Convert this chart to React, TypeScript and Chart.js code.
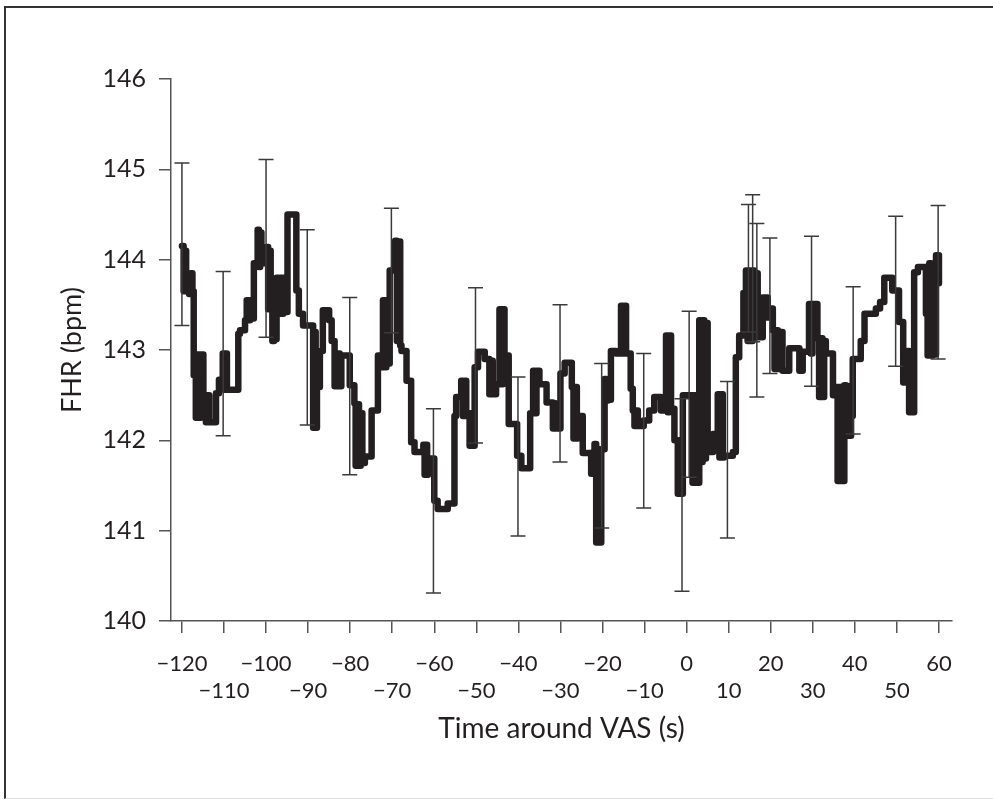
import React, { useEffect, useRef } from "react";
import { Chart, registerables } from "chart.js";

Chart.register(...registerables);

// Mean FHR step series (time in s around VAS, value in bpm)
const stepTimes: number[] = [
  -120, -119.6, -119.3, -119.0, -118.7, -118.3, -117.9, -117.5, -117.2, -116.7,
  -116.3, -115.9, -115.5, -114.9, -114.3, -113.9, -113.5, -111.9, -111.2, -110.3,
  -110.0, -109.7, -109.3, -106.6, -106.2, -105.0, -104.6, -104.2, -103.8, -103.4,
  -102.9, -102.0, -101.7, -101.4, -101.1, -99.9, -99.5, -99.2, -98.9, -98.5,
  -98.1, -97.8, -97.5, -97.1, -96.7, -96.3, -95.9, -95.5, -94.9, -92.8,
  -92.2, -91.2, -88.8, -88.5, -88.2, -87.9, -87.2, -86.5, -85.0, -84.4,
  -83.7, -83.4, -83.1, -82.8, -82.5, -82.1, -80.1, -79.0, -78.7, -78.3,
  -77.9, -77.5, -77.1, -76.5, -74.9, -73.4, -72.6, -72.2, -71.8, -71.4,
  -71.0, -70.6, -69.3, -68.9, -68.5, -68.1, -67.8, -66.6, -65.5, -64.7,
  -62.6, -62.3, -62.0, -61.7, -61.5, -60.0, -59.2, -56.8, -55.2, -54.8,
  -53.6, -53.2, -52.8, -52.4, -52.0, -51.6, -51.2, -50.8, -50.4, -49.6,
  -48.0, -46.9, -46.5, -46.1, -45.3, -44.5, -44.1, -43.7, -43.3, -42.9,
  -42.3, -40.3, -39.3, -37.2, -36.5, -36.1, -35.7, -35.0, -33.3, -31.8,
  -31.5, -31.2, -30.0, -29.0, -27.3, -26.9, -26.5, -26.1, -25.9, -24.7,
  -22.7, -21.9, -21.5, -21.1, -20.7, -20.3, -19.5, -19.1, -18.7, -18.3,
  -18.0, -16.8, -15.6, -15.2, -14.8, -14.4, -13.3, -12.8, -12.4, -12.0,
  -11.6, -10.2, -8.9, -7.7, -6.1, -4.9, -4.5, -4.1, -3.7, -2.9,
  -2.1, -1.7, -1.3, -0.9, 1.4, 1.8, 2.2, 3.0, 3.4, 3.8,
  4.2, 4.6, 5.0, 6.3, 7.4, 7.8, 8.2, 8.6, 8.9, 11.0,
  11.7, 12.5, 13.5, 14.1, 14.5, 14.9, 15.3, 15.7, 16.1, 16.5,
  16.9, 17.3, 17.7, 18.1, 18.5, 18.9, 19.3, 20.0, 20.5, 20.9,
  21.3, 21.7, 22.1, 22.8, 24.4, 26.8, 27.6, 29.1, 29.5, 29.9,
  31.1, 31.5, 31.9, 32.3, 32.7, 33.1, 34.8, 35.5, 35.9, 36.3,
  36.7, 37.5, 37.9, 38.3, 38.7, 39.1, 39.5, 41.4, 42.3, 45.0,
  46.0, 47.0, 48.9, 50.5, 51.5, 52.5, 52.9, 53.3, 53.7, 54.1,
  55.0, 56.9, 57.3, 57.7, 58.1, 58.5, 58.9, 59.3, 59.6, 60.0,
];

const stepValues: number[] = [
  144.15, 143.65, 144.1, 143.7, 143.85, 143.62, 143.85, 143.65, 142.72, 142.25,
  142.95, 142.25, 142.95, 142.48, 142.2, 142.5, 142.2, 142.52, 142.67, 142.96,
  142.56, 142.96, 142.56, 143.18, 143.22, 143.33, 143.55, 143.33, 143.55, 143.35,
  143.96, 144.33, 143.92, 144.3, 143.96, 144.14, 143.45, 144.1, 143.5, 143.1,
  143.45, 143.12, 143.8, 143.4, 143.8, 143.4, 143.8, 143.42, 144.5, 143.66,
  143.4, 143.27, 142.14, 143.2, 142.14, 142.59, 142.99, 143.44, 143.33, 143.1,
  142.6, 142.96, 142.6, 142.96, 142.6, 142.94, 142.61, 142.41, 141.72, 142.4,
  141.72, 142.3, 141.75, 141.82, 142.33, 142.94, 142.81, 143.55, 142.81, 143.55,
  142.85, 143.88, 144.21, 143.1, 144.2, 143.05, 142.99, 142.66, 141.98, 141.87,
  141.95, 141.62, 141.95, 141.62, 141.8, 141.33, 141.24, 141.3, 142.27, 142.48,
  142.66, 142.27, 142.66, 142.27, 142.3, 141.94, 142.3, 141.94, 142.81, 142.98,
  142.9, 142.51, 142.88, 142.51, 142.62, 143.45, 142.62, 143.45, 142.7, 142.94,
  142.18, 141.83, 141.69, 142.3, 142.77, 142.3, 142.77, 142.62, 142.42, 142.13,
  142.41, 142.13, 142.74, 142.86, 142.59, 142.02, 142.59, 142.02, 142.27, 141.86,
  141.63, 141.96, 140.87, 141.9, 140.87, 141.9, 142.68, 142.44, 142.68, 142.45,
  142.99, 142.96, 143.49, 142.96, 143.49, 142.96, 142.57, 142.33, 142.16, 142.33,
  142.16, 142.22, 142.33, 142.48, 142.33, 143.16, 142.31, 143.16, 142.35, 142.0,
  141.41, 142.0, 141.41, 142.5, 141.53, 142.5, 141.53, 143.33, 141.76, 143.33,
  141.8, 143.3, 141.87, 142.07, 142.51, 141.81, 142.51, 141.81, 141.83, 141.87,
  142.92, 143.16, 143.63, 143.88, 143.1, 143.88, 143.1, 143.88, 143.15, 143.85,
  143.14, 143.46, 143.14, 143.58, 143.36, 143.58, 143.36, 143.46, 143.22, 142.79,
  143.22, 142.79, 143.2, 142.77, 143.02, 142.77, 142.98, 143.51, 142.96, 143.51,
  143.13, 142.48, 143.13, 142.48, 143.1, 142.96, 142.5, 142.59, 141.55, 142.59,
  141.55, 142.61, 142.05, 142.6, 142.05, 142.27, 142.9, 143.1, 143.4, 143.46,
  143.53, 143.8, 143.66, 143.31, 142.64, 142.99, 142.31, 142.7, 142.31, 143.86,
  143.92, 143.4, 142.94, 143.96, 142.94, 143.9, 142.95, 144.05, 143.74, 144.05,
];

// Error bars
const errTimes: number[] = [-120, -110.2, -100, -90.2, -80.1, -70.2, -60.2, -50.2, -40.1, -30.1, -20.2, -10.2, -1.1, 0.6, 9.7, 14.7, 15.7, 16.7, 19.8, 29.7, 39.6, 49.7, 59.8];
const errLow: number[] = [143.27, 142.05, 143.14, 142.17, 141.62, 143.19, 140.31, 141.97, 140.94, 141.76, 141.03, 141.25, 140.33, 141.59, 140.92, 143.2, 143.09, 142.48, 142.74, 142.6, 142.07, 142.82, 142.9];
const errHigh: number[] = [145.07, 143.87, 145.11, 144.33, 143.58, 144.57, 142.35, 143.69, 142.7, 143.5, 142.85, 142.96, 142.46, 143.43, 142.65, 144.61, 144.72, 144.4, 144.24, 144.26, 143.7, 144.48, 144.6];

const xTickValues: number[] = [-120, -110, -100, -90, -80, -70, -60, -50, -40, -30, -20, -10, 0, 10, 20, 30, 40, 50, 60];
const yTickValues: number[] = [140, 141, 142, 143, 144, 145, 146];

const FONT = "Lato, 'Open Sans', sans-serif";
const INK = "#231f20";
const AXIS = "#555555";

const fmt = (v: number) => (v < 0 ? "\u2212" + Math.abs(v) : String(v));

const errorBarPlugin = {
  id: "errorBars",
  afterDatasetsDraw(chart: any) {
    const { ctx, scales } = chart;
    const x = scales.x;
    const y = scales.y;
    ctx.save();
    ctx.strokeStyle = "#3a3a3a";
    ctx.lineWidth = 1.5;
    const half = 7.5;
    errTimes.forEach((t, i) => {
      const px = x.getPixelForValue(t);
      const lo = y.getPixelForValue(errLow[i]);
      const hi = y.getPixelForValue(errHigh[i]);
      ctx.beginPath();
      ctx.moveTo(px, hi);
      ctx.lineTo(px, lo);
      ctx.moveTo(px - half, hi);
      ctx.lineTo(px + half, hi);
      ctx.moveTo(px - half, lo);
      ctx.lineTo(px + half, lo);
      ctx.stroke();
    });
    ctx.restore();
  },
};

export default function App() {
  const ref = useRef<HTMLCanvasElement | null>(null);

  useEffect(() => {
    if (!ref.current) return;
    const chart = new Chart(ref.current, {
      type: "line",
      data: {
        datasets: [
          {
            data: stepTimes.map((t, i) => ({ x: t, y: stepValues[i] })),
            stepped: true,
            borderColor: INK,
            borderWidth: 6.5,
            borderJoinStyle: "round",
            borderCapStyle: "round",
            pointRadius: 0,
            fill: false,
            clip: false as any,
          },
        ],
      },
      options: {
        animation: false,
        responsive: false,
        devicePixelRatio: 1,
        layout: { padding: { top: 79, right: 41, left: 0, bottom: 0 } },
        plugins: { legend: { display: false }, tooltip: { enabled: false } },
        scales: {
          x: {
            type: "linear",
            min: -122.6,
            max: 63.1,
            afterBuildTicks: (s: any) => {
              s.ticks = xTickValues.map((v) => ({ value: v }));
            },
            afterFit: (s: any) => {
              s.height = 179;
            },
            ticks: {
              autoSkip: false,
              maxRotation: 0,
              minRotation: 0,
              padding: 17,
              color: INK,
              font: { family: FONT, size: 22, lineHeight: 1.25 },
              callback: (v: any) => {
                const val = Number(v);
                const idx = Math.round((val + 120) / 10);
                return idx % 2 === 0 ? fmt(val) : ["", fmt(val)];
              },
            },
            grid: { drawOnChartArea: false, drawTicks: true, tickLength: 12, color: AXIS, lineWidth: 1.5 },
            border: { display: true, color: AXIS, width: 1.5 },
            title: {
              display: true,
              text: "Time around VAS (s)",
              color: INK,
              font: { family: FONT, size: 28, lineHeight: 1.2 },
              padding: { top: 0, bottom: 54 },
            },
          },
          y: {
            type: "linear",
            min: 140,
            max: 146,
            afterBuildTicks: (s: any) => {
              s.ticks = yTickValues.map((v) => ({ value: v }));
            },
            afterFit: (s: any) => {
              s.width = 171;
            },
            ticks: {
              padding: 13,
              color: INK,
              font: { family: FONT, size: 25 },
              callback: (v: any) => String(v),
            },
            grid: { drawOnChartArea: false, drawTicks: true, tickLength: 12, color: AXIS, lineWidth: 1.5 },
            border: { display: true, color: AXIS, width: 1.5 },
            title: {
              display: true,
              text: "FHR (bpm)",
              color: INK,
              font: { family: FONT, size: 27, lineHeight: 1.2 },
              padding: { top: 56, bottom: 0 },
            },
          },
        },
      },
      plugins: [errorBarPlugin],
    } as any);
    return () => chart.destroy();
  }, []);

  return (
    <div style={{ position: "absolute", left: 0, top: 0, width: 993, height: 800, background: "#fff", overflow: "hidden" }}>
      <div
        style={{
          position: "absolute",
          left: 4,
          top: 6,
          width: 1000,
          height: 790,
          borderTop: "2px solid #333",
          borderLeft: "2px solid #333",
          borderBottom: "1px solid #ddd",
        }}
      />
      <canvas ref={ref} width={993} height={800} style={{ position: "absolute", left: 0, top: 0, display: "block" }} />
    </div>
  );
}
